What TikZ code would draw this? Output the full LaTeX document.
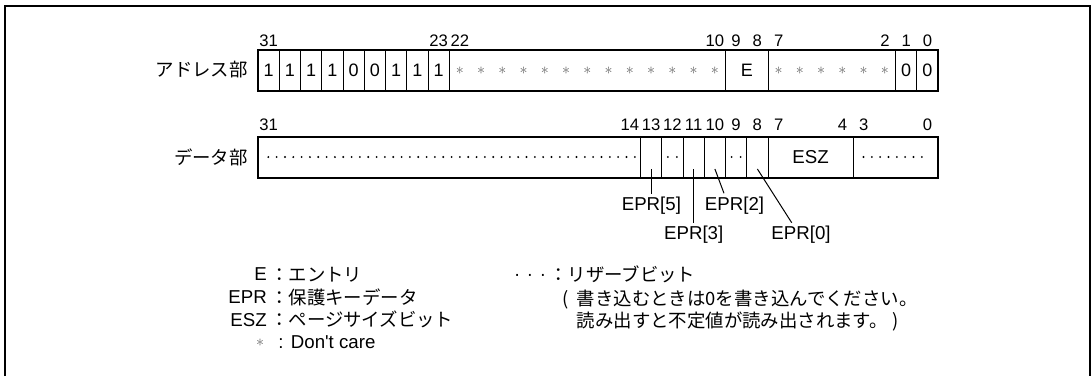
\documentclass[tikz,border=0pt]{standalone}
\usepackage{fontspec}
\setmainfont{Liberation Sans}
\newfontfamily\dcfont{Liberation Sans}
\newfontfamily\jp{Noto Sans CJK JP}
\begin{document}
\begin{tikzpicture}[x=0.75pt,y=-0.75pt,
  lat/.style={font=\fontsize{14}{16}\selectfont, inner sep=0},
  bitn/.style={font=\fontsize{12.5}{14}\selectfont, inner sep=0, anchor=base},
  cell/.style={font=\fontsize{13.5}{15}\selectfont, inner sep=0},
  ast/.style={font=\fontsize{13}{15}\selectfont, inner sep=0, text=black!60},
  jpt/.style={font=\fontsize{13.8}{16}\selectfont\jp, inner sep=0},
  regbox/.style={line width=1.5pt},
  divline/.style={line width=0.75pt},
  leader/.style={line width=0.75pt},
  frameline/.style={line width=1.5pt}]
\useasboundingbox (0,0) rectangle (1092,376);
% outer frame (open at bottom)
\draw[frameline] (5,376) -- (5,6) -- (1090,6) -- (1090,376);

% ---------------- address register ----------------
\node[jpt, anchor=east] (alabel) at (248,70) {アドレス部};
\foreach \k in {1,...,9,22,24,30,31}
  \draw[divline] ({258+\k*21.25},49.5) -- ({258+\k*21.25},90.5);
\draw[regbox] (258,49.5) rectangle (938,90.5);
\foreach \b in {31,23,22,10,9,8,7,2,1,0}
  \node[bitn] (ab\b) at ({258+(31-\b+0.5)*21.25},46.5) {\b};
\foreach \b/\v in {31/1,30/1,29/1,28/1,27/0,26/0,25/1,24/1,23/1,1/0,0/0}
  \node[cell] (ac\b) at ({258+(31-\b+0.5)*21.25},70) {\v};
\foreach \b in {22,21,...,10,7,6,...,2}
  \node[ast] (as\b) at ({258+(31-\b+0.5)*21.25},71) {$\ast$};
\node[cell] (aE) at (746.75,70) {E};

% ---------------- data register ----------------
\node[jpt, anchor=east] (dlabel) at (248,157) {データ部};
\foreach \k in {18,19,20,21,22,23,24,28}
  \draw[divline] ({258+\k*21.25},136.7) -- ({258+\k*21.25},178);
\draw[regbox] (258,136.7) rectangle (938,178);
\foreach \b in {31,14,13,12,11,10,9,8,7,4,3,0}
  \node[bitn] (db\b) at ({258+(31-\b+0.5)*21.25},130) {\b};
\foreach \i in {0,...,44}
  \fill ({268.3+\i*8.33},157) circle (1.05);
\foreach \i in {0,...,7}
  \fill ({863.5+\i*8.33},157) circle (1.05);
\foreach \c in {672.4,736.1}{
  \fill ({\c-4.5},157) circle (1.05);
  \fill ({\c+4.5},157) circle (1.05);
}
\node[lat] (esz) at (810.5,157) {ESZ};

% ---------------- EPR leaders ----------------
\coordinate (e5a) at (651.1,169);  \coordinate (e5b) at (651.1,194);
\coordinate (e3a) at (693.6,169);  \coordinate (e3b) at (693.6,222.7);
\coordinate (e2a) at (714.9,169);  \coordinate (e2b) at (724,193.3);
\coordinate (e0a) at (757.4,169);  \coordinate (e0b) at (791.7,222.7);
\draw[leader] (e5a) -- (e5b);
\draw[leader] (e3a) -- (e3b);
\draw[leader] (e2a) -- (e2b);
\draw[leader] (e0a) -- (e0b);
\node[lat] (epr5) at (651.4,205.5) {EPR[5]};
\node[lat] (epr2) at (734.5,205.5) {EPR[2]};
\node[lat] (epr3) at (693.7,235) {EPR[3]};
\node[lat] (epr0) at (801,235) {EPR[0]};

% ---------------- legend ----------------
\node[lat, anchor=base east] (lgE) at (267,280.5) {E};
\node[lat, anchor=base east] (lgEPR) at (267,303.5) {EPR};
\node[lat, anchor=base east] (lgESZ) at (267,326) {ESZ};
\node[ast] (lgA) at (260,343) {$\ast$};
\node[jpt, anchor=base west] (tE) at (270,281) {：エントリ};
\node[jpt, anchor=base west] (tEPR) at (270,304) {：保護キーデータ};
\node[jpt, anchor=base west] (tESZ) at (270,326.5) {：ページサイズビット};
\node[lat, anchor=base west] (tA) at (278,348.5) {:\hspace{0.4em}{\dcfont Don't care}};

\node[lat, anchor=base] (lgR) at (530,280.5) {·\hspace{5pt}·\hspace{5pt}·};
\node[jpt, anchor=base west] (tR) at (549,281) {：リザーブビット};
\node[jpt, anchor=base west] (tR1p) at (562,305.5) {(};
\node[jpt, anchor=base west] (tR1) at (576.7,305.5) {書き込むときは0を書き込んでください。};
\node[jpt, anchor=base west] (tR2) at (576.7,327) {読み出すと不定値が読み出されます。 )};
\end{tikzpicture}
\end{document}
